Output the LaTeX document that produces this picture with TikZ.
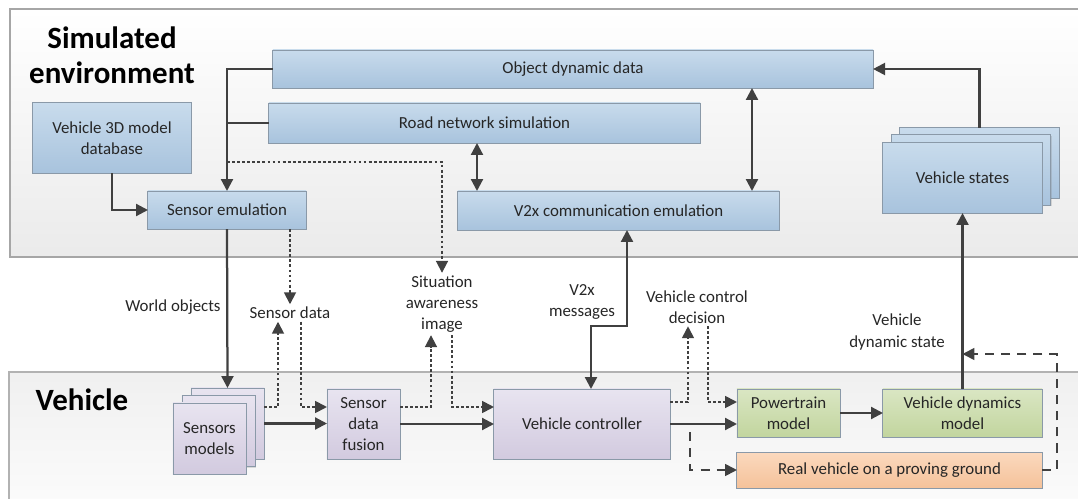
\documentclass[tikz,border=0pt]{standalone}
\usepackage{fontspec}
\setmainfont{Carlito}
\usetikzlibrary{arrows.meta,shadows}

\definecolor{linegray}{HTML}{404040}
\definecolor{boxline}{HTML}{8A99A8}
\definecolor{bluetop}{HTML}{C8DBEC}
\definecolor{bluebot}{HTML}{A8C3DD}
\definecolor{purtop}{HTML}{E8E4F0}
\definecolor{purbot}{HTML}{D2CADF}
\definecolor{grntop}{HTML}{DAE6C3}
\definecolor{grnbot}{HTML}{C2D59E}
\definecolor{orgtop}{HTML}{FBD9BE}
\definecolor{orgbot}{HTML}{F5C29A}

\begin{document}
\begin{tikzpicture}
  [x=0.025cm,y=-0.025cm,
   every node/.style={font=\fontsize{12}{15}\selectfont,align=center,inner sep=1pt,outer sep=0pt,text=black!85},
   blk/.style={rectangle,draw=boxline,line width=0.7pt,drop shadow={shadow xshift=1pt,shadow yshift=-1pt,opacity=0.25}},
   envblk/.style={blk,top color=bluetop,bottom color=bluebot},
   vehblk/.style={blk,top color=purtop,bottom color=purbot},
   plantblk/.style={blk,top color=grntop,bottom color=grnbot},
   realblk/.style={blk,top color=orgtop,bottom color=orgbot},
   title/.style={font=\fontsize{22}{25}\selectfont\bfseries,text=black},
   lbl/.style={inner sep=2pt},
   arr/.style={draw=linegray,line width=1.6pt,-{Triangle[length=8.5pt,width=8.5pt]}},
   arrtwo/.style={arr,{Triangle[length=8.5pt,width=8.5pt]}-{Triangle[length=8.5pt,width=8.5pt]}},
   ln/.style={draw=linegray,line width=1.6pt},
   dots/.style={draw=linegray,line width=1.3pt,dash pattern=on 2pt off 1.6pt,-{Triangle[length=8.5pt,width=8.5pt]}},
   dsh/.style={draw=linegray,line width=1.3pt,dash pattern=on 6.5pt off 5pt,-{Triangle[length=8.5pt,width=8.5pt]}}]

  \useasboundingbox (0,0) rectangle (1078,499);
  \clip (0,0) rectangle (1078,499);

  % panels
  \path[draw=black!35,top color=white,bottom color=black!8,line width=0.8pt] (10,9) rectangle (1100,257);
  \path[draw=black!30,top color=black!6,bottom color=black!1,line width=0.8pt] (9,372) rectangle (1100,520);
  \node[title] (tsim) at (112,55) {Simulated\\environment};
  \node[title] (tveh) at (82,400) {Vehicle};

  % simulated environment
  \node[envblk,minimum width=15cm,minimum height=0.95cm] (odd) at (573,69) {Object dynamic data};
  \node[envblk,minimum width=10.775cm,minimum height=1cm] (road) at (484.5,123) {Road network simulation};
  \node[envblk,minimum width=3.95cm,minimum height=1.75cm] (v3d) at (112,138) {Vehicle 3D model\\database};
  \node[envblk,minimum width=3.95cm,minimum height=0.95cm] (semu) at (227,210) {Sensor emulation};
  \node[envblk,minimum width=8.025cm,minimum height=0.975cm] (v2x) at (618.5,210.5) {V2x communication emulation};
  \node[envblk,minimum width=3.975cm,minimum height=1.75cm] (vs2) at (979.5,163) {};
  \node[envblk,minimum width=3.975cm,minimum height=1.75cm] (vs1) at (971,170) {};
  \node[envblk,minimum width=3.975cm,minimum height=1.75cm] (vs) at (962.5,178) {Vehicle states};

  % vehicle
  \node[vehblk,minimum width=1.825cm,minimum height=1.775cm] (sm2) at (227.5,423.5) {};
  \node[vehblk,minimum width=1.825cm,minimum height=1.775cm] (sm1) at (218.5,431) {};
  \node[vehblk,minimum width=1.825cm,minimum height=1.775cm] (sm) at (209.5,438.5) {Sensors\\models};
  \node[vehblk,minimum width=1.825cm,minimum height=1.75cm] (fus) at (363.5,424) {Sensor\\data\\fusion};
  \node[vehblk,minimum width=4.4cm,minimum height=1.75cm] (ctrl) at (582,424) {Vehicle controller};
  \node[plantblk,minimum width=2.575cm,minimum height=1.2cm] (pt) at (788.5,413) {Powertrain\\model};
  \node[plantblk,minimum width=3.975cm,minimum height=1.2cm] (vd) at (962.5,413) {Vehicle dynamics\\model};
  \node[realblk,minimum width=7.625cm,minimum height=0.9cm] (real) at (889.5,470) {Real vehicle on a proving ground};

  % labels
  \node[lbl] (wol) at (173,307) {World objects};
  \node[lbl] (sdl) at (290,313) {Sensor data};
  \node[lbl] (sai) at (442,304) {Situation\\awareness\\image};
  \node[lbl] (v2xm) at (582,302) {V2x\\messages};
  \node[lbl] (vcd) at (697,307) {Vehicle control\\decision};
  \node[lbl] (vds) at (897,332) {Vehicle\\dynamic state};

  % helper columns and rows
  \coordinate (xrv) at (477,0);
  \coordinate (xov) at (752,0);
  \coordinate (sa0) at (227,162);
  \coordinate (c1) at (278,0);
  \coordinate (c2) at (301,0);
  \coordinate (c3) at (431,0);
  \coordinate (c4) at (452,0);
  \coordinate (c5) at (688,0);
  \coordinate (c6) at (708,0);
  \coordinate (c9) at (591,0);
  \coordinate (m1) at (627,326);
  \coordinate (dotrow) at (0,407);
  \coordinate (dotrowb) at (0,402);
  \coordinate (rv0) at (690,432);
  \coordinate (fbr) at (1057,354);

  % connectors in the simulated environment
  \draw[arr] (odd.west) -| (semu.north);
  \draw[ln] (road.west) -- (road.west -| semu.north);
  \draw[arr] (v3d.south) |- (semu.west);
  \draw[dots] (sa0) -| (sai.north);
  \draw[arrtwo] (road.south -| xrv) -- (v2x.north -| xrv);
  \draw[arrtwo] (odd.south -| xov) -- (v2x.north -| xov);
  \draw[arr] (vs2.north) |- (odd.east);

  % between the two parts
  \draw[arr] (semu.south) -- (sm2.north);
  \draw[dots] (semu.south -| sdl.north) -- (sdl.north);
  \draw[arrtwo] (v2x.south -| m1) -- (m1) -| (ctrl.north -| c9);
  \draw[arr] (vd.north) -- (vs.south);

  % vehicle connectors
  \draw[dots] (sm2.east |- dotrow) -| (sdl.south -| c1);
  \draw[dots] (sdl.south -| c2) |- (fus.west |- dotrow);
  \draw[arr] (sm2.east) -- (sm2.east -| fus.west);
  \draw[dots] (fus.east |- dotrow) -| (sai.south -| c3);
  \draw[dots] (sai.south -| c4) |- (ctrl.west |- dotrow);
  \draw[arr] (fus.east) -- (ctrl.west);
  \draw[dots] (ctrl.east |- dotrowb) -| (vcd.south -| c5);
  \draw[dots] (vcd.south -| c6) |- (pt.west |- dotrowb);
  \draw[arr] (ctrl.east) -- (ctrl.east -| pt.west);
  \draw[arr] (pt.east) -- (pt.east -| vd.west);
  \draw[dsh] (rv0) |- (real.west);
  \draw[dsh] (real.east) -| (fbr) -- (fbr -| vd.north);
\end{tikzpicture}
\end{document}
